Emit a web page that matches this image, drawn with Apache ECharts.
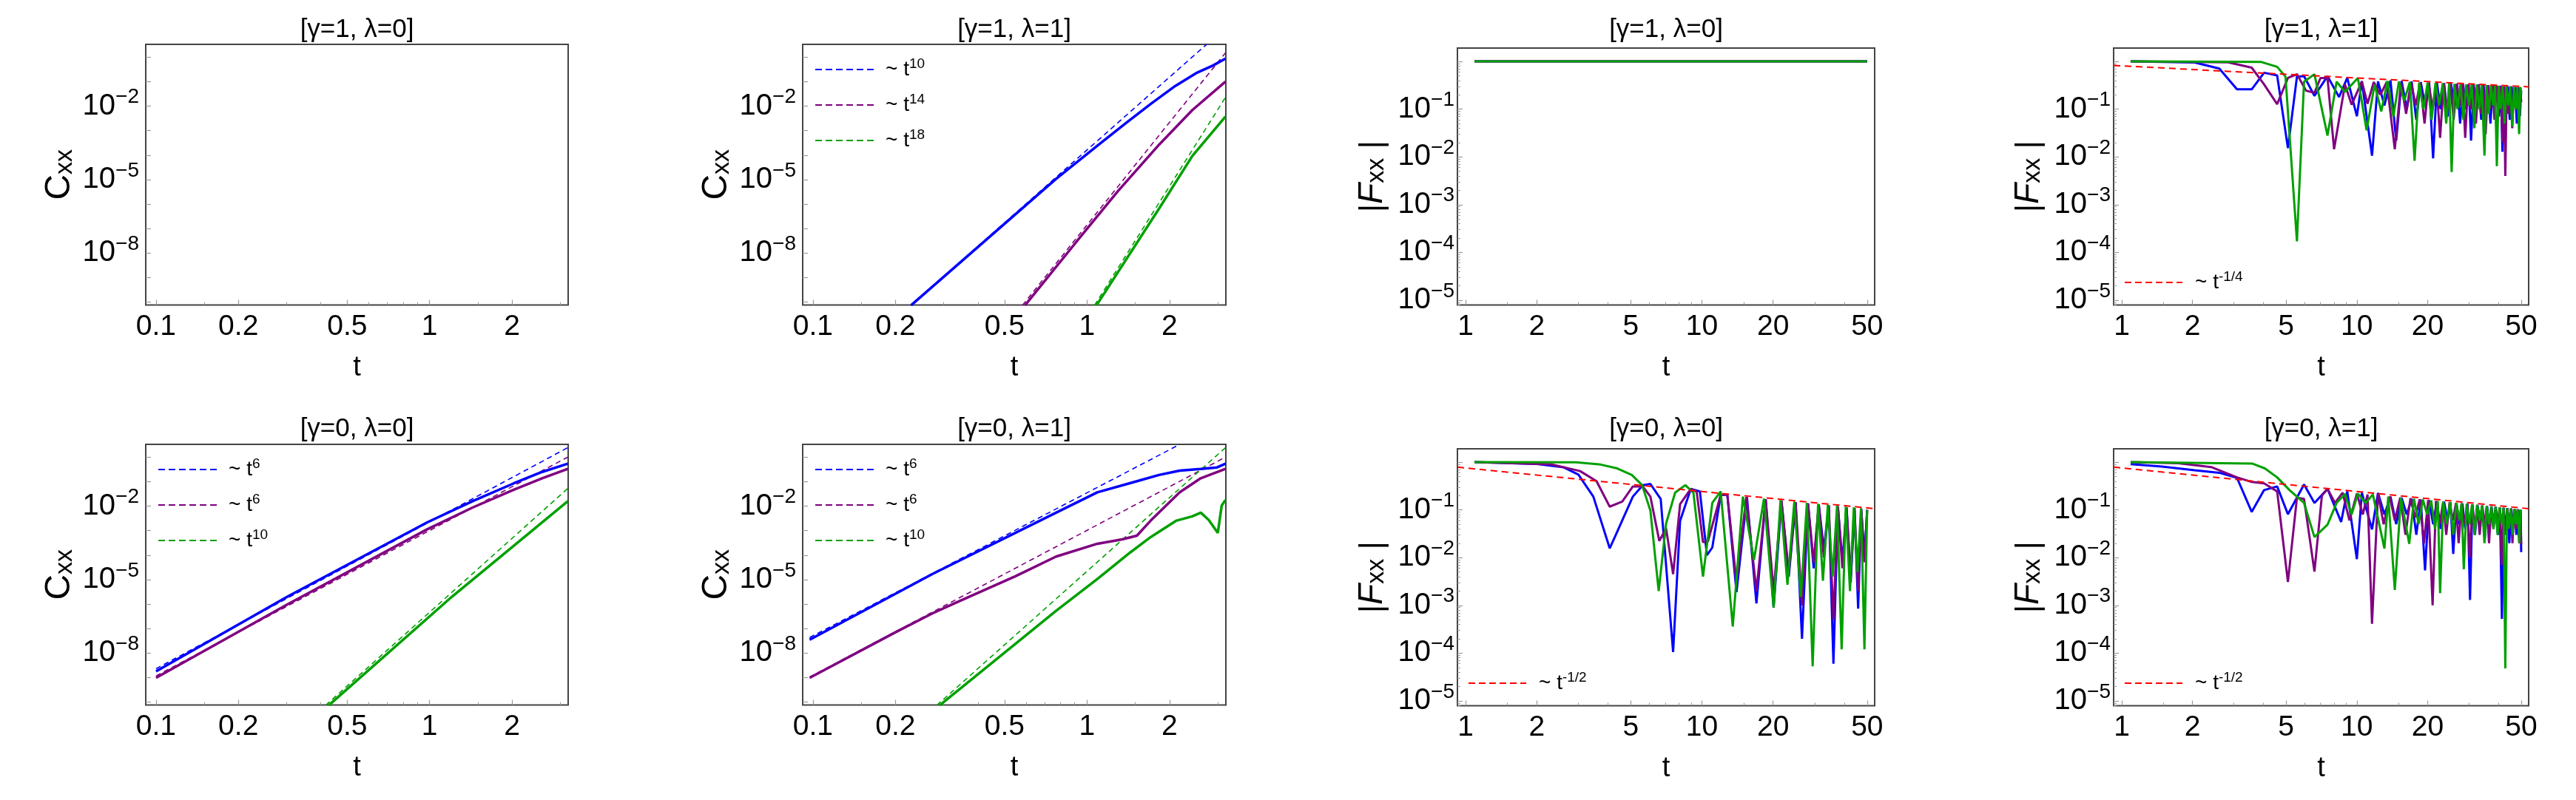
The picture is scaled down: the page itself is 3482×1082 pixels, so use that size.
<!DOCTYPE html>
<html>
<head>
<meta charset="utf-8">
<title>Cxx and Fxx</title>
<script src="https://cdn.jsdelivr.net/npm/echarts@6.0.0/dist/echarts.min.js"></script>
<style>
  html, body { margin: 0; padding: 0; background: #fff; }
  #container { width: 3482px; height: 1082px; }
</style>
</head>
<body>
<div id="container"></div>
<script>
// ---- data: [t, value] ----
// panel 2  [γ=1, λ=1]  Cxx
var p2Blue = [[0.228, 7.4e-11], [0.771, 1.07e-5], [1.09, 2.4e-4], [1.39, 2.07e-3], [1.71, 0.0124], [2.10, 0.0667], [2.50, 0.221], [2.88, 0.453], [3.2, 0.865]];
var p2BlueFit = [[0.228, 7.4e-11], [2.73, 3.3]];
var p2Purple = [[0.594, 7.4e-11], [0.917, 3.0e-8], [1.297, 3.4e-6], [1.834, 2.7e-4], [2.42, 6.8e-3], [3.2, 0.1]];
var p2PurpleFit = [[0.581, 7.4e-11], [3.2, 1.5]];
var p2Green = [[1.083, 7.4e-11], [1.834, 6.7e-7], [2.42, 9.1e-5], [3.2, 3.76e-3]];
var p2GreenFit = [[1.065, 7.4e-11], [3.2, 0.0227]];

// panel 5  [γ=0, λ=0]  Cxx
var p5Blue = [[0.1, 1.8e-9], [0.302, 2.0e-6], [0.98, 2.17e-3], [1.435, 0.0158], [2.03, 0.0847], [2.58, 0.249], [3.2, 0.536]];
var p5BlueFit = [[0.1, 2.3e-9], [3.2, 2.43]];
var p5Purple = [[0.1, 9.8e-10], [0.302, 9.7e-7], [0.98, 1.13e-3], [1.435, 8.7e-3], [2.03, 0.0466], [2.58, 0.137], [3.2, 0.332]];
var p5PurpleFit = [[0.1, 1.17e-9], [3.2, 1.0]];
var p5Green = [[0.428, 7.4e-11], [1.207, 2.0e-6], [3.2, 0.0158]];
var p5GreenFit = [[0.417, 7.4e-11], [3.2, 0.0525]];

// panel 6  [γ=0, λ=1]  Cxx
var p6Blue = [[0.0972, 3.5e-8], [0.273, 1.7e-5], [0.771, 5.4e-3], [1.09, 0.0366], [1.54, 0.108], [1.83, 0.187], [2.18, 0.28], [2.6, 0.33], [2.98, 0.38], [3.2, 0.537]];
var p6BlueFit = [[0.0972, 4.3e-8], [2.18, 3.31]];
var p6Purple = [[0.0972, 9.8e-10], [0.2, 7.1e-8], [0.273, 4.2e-7], [0.33, 1.1e-6], [0.386, 2.4e-6], [0.546, 1.35e-5], [0.771, 8.7e-5], [1.09, 2.9e-4], [1.343, 4.4e-4], [1.52, 6.2e-4], [1.71, 2.6e-3], [1.93, 9.8e-3], [2.18, 0.0366], [2.6, 0.137], [3.2, 0.332]];
var p6PurpleFit = [[0.0972, 1.05e-9], [3.2, 1.0]];
var p6Green = [[0.29, 7.4e-11], [0.771, 5.3e-7], [1.09, 1.06e-5], [1.44, 1.3e-4], [1.71, 5.5e-4], [2.11, 2.5e-3], [2.42, 3.8e-3], [2.6, 5.4e-3], [2.78, 2.7e-3], [3.0, 8.0e-4], [3.1, 0.0105], [3.2, 0.0179]];
var p6GreenFit = [[0.283, 7.4e-11], [3.2, 2.43]];

// panel 3  [γ=1, λ=0]  |Fxx|
var p3Blue = [[1.09, 1], [50, 1]];
var p3Purple = [[1.09, 1], [50, 1]];
var p3Green = [[1.09, 1], [50, 1]];

// panel 4  [γ=1, λ=1]  |Fxx|
var p4Blue = [[1.09,1.0],[2.04,0.95],[2.6,0.71],[3.09,0.26],[3.57,0.26],[4.03,0.58],[4.58,0.51],[5.09,0.0153],[5.56,0.48],[5.96,0.49],[6.6,0.19],[7.5,0.49],[8.4,0.18],[9.1,0.45],[10.0,0.071],[10.5,0.385],[11.6,0.0106],[12.3,0.38],[13.1,0.12],[13.9,0.40],[14.7,0.022],[15.5,0.39],[16.3,0.10],[17.1,0.38],[17.9,0.06],[18.7,0.37],[19.5,0.12],[20.3,0.36],[21.1,9.3e-3],[21.9,0.36],[22.7,0.10],[23.5,0.35],[24.3,0.07],[25.1,0.35],[25.9,0.15],[26.7,0.34],[27.5,0.05],[28.3,0.34],[29.1,0.10],[29.9,0.33],[30.6,0.022],[31.4,0.33],[32.2,0.12],[33.0,0.33],[33.8,0.06],[34.6,0.32],[35.4,0.10],[36.2,0.32],[37.0,0.05],[37.8,0.31],[38.6,0.12],[39.4,0.31],[40.2,0.07],[41.0,0.31],[41.6,0.0128],[42.3,0.30],[43.1,0.10],[43.9,0.30],[44.7,0.06],[45.5,0.30],[46.3,0.12],[47.1,0.29],[47.9,0.05],[48.7,0.29],[49.4,0.071],[50,0.25]];
var p4Purple = [[1.09,1.0],[2.83,0.96],[3.57,0.74],[4.03,0.33],[4.58,0.127],[5.09,0.45],[5.56,0.54],[6.08,0.244],[6.6,0.22],[7.0,0.45],[7.5,0.45],[8.0,0.0145],[8.9,0.33],[9.5,0.124],[10.5,0.38],[11.1,0.13],[11.8,0.37],[12.6,0.2],[13.4,0.37],[14.5,0.0145],[15.4,0.36],[16.2,0.08],[17.0,0.37],[17.8,0.12],[18.6,0.36],[19.4,0.05],[20.2,0.36],[21.0,0.10],[21.8,0.35],[22.6,0.025],[23.4,0.35],[24.2,0.09],[25.0,0.34],[25.8,0.06],[26.6,0.34],[27.4,0.12],[28.2,0.33],[28.9,0.025],[29.7,0.33],[30.5,0.10],[31.3,0.33],[32.1,0.05],[32.9,0.32],[33.7,0.08],[34.5,0.32],[35.3,0.03],[36.1,0.32],[36.9,0.10],[37.7,0.31],[38.5,0.06],[39.3,0.31],[40.1,0.09],[40.9,0.30],[41.7,0.02],[42.3,0.30],[42.8,4.0e-3],[43.4,0.30],[44.2,0.08],[45.0,0.30],[45.8,0.04],[46.6,0.29],[47.4,0.10],[48.2,0.29],[49.0,0.05],[49.6,0.28],[50,0.14]];
var p4Green = [[1.09,1.0],[3.9,0.98],[4.58,0.77],[4.97,0.48],[5.56,1.7e-4],[5.96,0.376],[6.6,0.54],[7.5,0.028],[8.2,0.376],[8.9,0.23],[10.1,0.45],[11.0,0.036],[11.9,0.33],[12.7,0.09],[13.5,0.39],[14.3,0.07],[15.1,0.38],[15.9,0.15],[16.8,0.37],[17.6,8.3e-3],[18.4,0.36],[19.2,0.10],[20.0,0.36],[20.8,0.06],[21.6,0.35],[22.4,0.12],[23.2,0.35],[24.0,0.05],[24.7,0.35],[25.3,4.8e-3],[26.0,0.34],[26.8,0.10],[27.6,0.34],[28.4,0.06],[29.2,0.33],[30.0,0.12],[30.8,0.33],[31.6,0.04],[32.4,0.33],[33.2,0.10],[34.0,0.32],[34.9,0.0106],[35.6,0.32],[36.4,0.08],[37.2,0.32],[38.0,0.12],[38.7,0.31],[39.4,6.4e-3],[40.1,0.31],[40.9,0.10],[41.7,0.30],[42.5,0.05],[43.3,0.30],[44.1,0.12],[44.9,0.30],[45.8,0.043],[46.6,0.29],[47.4,0.10],[48.2,0.29],[49.0,0.03],[49.6,0.29],[50,0.2]];
var p4Fit = [[0.923, 0.824], [53.8, 0.294]];

// panel 7  [γ=0, λ=0]  |Fxx|
var p7Blue = [[1.09,1.0],[2.0,0.92],[2.6,0.78],[3.0,0.55],[3.47,0.19],[4.07,0.0157],[4.32,0.030],[5.1,0.19],[5.62,0.33],[6.05,0.35],[6.69,0.169],[7.55,1.05e-4],[8.08,0.059],[8.97,0.276],[9.8,0.244],[10.5,0.0113],[11.06,0.0163],[12.0,0.203],[12.8,0.21],[14.0,1.9e-3],[15.5,0.185],[17.0,1.1e-3],[18.6,0.168],[20.1,9e-4],[21.7,0.155],[23.3,4e-3],[24.9,0.145],[26.5,2e-4],[28.1,0.137],[29.7,6e-3],[31.2,0.13],[32.8,1.5e-2],[34.4,0.124],[36.0,6e-5],[37.6,0.118],[39.3,8e-3],[40.9,0.113],[42.6,3e-3],[44.2,0.109],[45.8,8.5e-4],[47.2,0.105],[48.7,1e-2],[50,0.1]];
var p7Purple = [[1.09,1.0],[2.3,0.9],[3.05,0.65],[3.58,0.40],[4.07,0.117],[4.6,0.149],[5.1,0.31],[5.62,0.31],[6.05,0.19],[6.6,0.0224],[7.05,0.041],[7.55,4.5e-3],[8.08,0.132],[8.97,0.276],[9.5,0.24],[10.1,0.021],[10.6,0.022],[12.0,0.205],[12.8,0.21],[14.0,3e-3],[15.4,0.185],[17.0,2e-3],[18.6,0.168],[20.1,2e-3],[21.7,0.155],[23.3,5e-3],[24.9,0.145],[26.5,1e-3],[28.1,0.137],[29.7,8e-3],[31.2,0.13],[32.8,1e-2],[34.4,0.124],[36.0,5e-4],[37.6,0.118],[39.3,6e-3],[40.9,0.113],[42.6,4e-3],[44.2,0.109],[45.8,2e-3],[47.2,0.105],[48.7,8e-3],[50,0.1]];
var p7Green = [[1.09,1.0],[2.93,0.99],[3.73,0.89],[4.38,0.74],[5.05,0.54],[5.58,0.33],[6.05,0.097],[6.56,2.0e-3],[7.05,0.052],[7.7,0.23],[8.5,0.33],[9.2,0.23],[10.1,4e-3],[11.06,0.14],[12.0,0.244],[13.5,3.6e-4],[14.9,0.19],[16.6,9e-3],[18.3,0.172],[20.1,9e-4],[21.5,0.16],[23.0,2.7e-3],[24.6,0.15],[26.2,1.5e-3],[27.8,0.141],[29.4,5.3e-5],[31.0,0.134],[32.5,3.3e-3],[34.1,0.128],[35.7,4e-3],[37.3,0.122],[39.0,1.2e-4],[40.6,0.117],[42.3,2e-3],[43.9,0.113],[45.5,5e-3],[47.1,0.109],[48.7,1.2e-4],[50,0.1]];
var p7Fit = [[0.923, 0.786], [53.8, 0.106]];

// panel 8  [γ=0, λ=1]  |Fxx|
var p8Blue = [[1.09,0.91],[1.48,0.81],[2.04,0.68],[2.6,0.6],[3.09,0.47],[3.57,0.091],[4.03,0.26],[4.58,0.31],[5.09,0.081],[5.96,0.34],[6.6,0.14],[7.5,0.276],[8.57,0.056],[9.1,0.245],[10.0,9.3e-3],[10.5,0.23],[11.6,0.039],[12.3,0.227],[13.1,0.08],[13.9,0.19],[14.7,0.05],[15.5,0.18],[16.3,0.08],[17.1,0.17],[17.9,0.03],[18.7,0.165],[19.5,5.4e-3],[20.3,0.16],[21.1,0.05],[21.9,0.152],[22.7,0.04],[23.5,0.148],[24.3,0.06],[25.0,0.145],[25.7,0.012],[26.5,0.14],[27.3,0.05],[28.1,0.136],[28.9,0.04],[29.6,0.133],[30.3,1.3e-3],[31.0,0.13],[31.8,0.03],[32.6,0.127],[33.4,0.06],[34.2,0.123],[35.0,0.025],[35.8,0.12],[36.6,0.04],[37.4,0.118],[38.2,0.05],[39.0,0.116],[39.8,0.03],[40.6,0.113],[41.4,5.2e-4],[42.1,0.111],[42.9,0.04],[43.7,0.109],[44.5,0.02],[45.3,0.107],[46.1,0.05],[46.9,0.105],[47.7,0.03],[48.5,0.103],[49.2,0.025],[49.7,0.1],[50,0.013]];
var p8Purple = [[1.09,1.0],[1.74,0.95],[2.4,0.79],[3.09,0.48],[3.57,0.385],[4.03,0.36],[4.58,0.244],[5.09,3.1e-3],[5.56,0.18],[5.96,0.17],[6.6,5.1e-3],[7.1,0.2],[7.5,0.276],[8.07,0.14],[8.7,0.23],[9.3,0.06],[10.0,0.22],[10.6,0.08],[11.1,0.21],[11.6,4.1e-4],[12.3,0.22],[13.0,0.05],[13.8,0.19],[14.5,0.06],[15.3,0.182],[16.1,0.03],[16.9,0.175],[17.7,0.07],[18.5,0.167],[19.3,0.02],[20.1,0.16],[21.0,1.0e-3],[21.7,0.154],[22.5,0.05],[23.3,0.148],[24.0,0.03],[24.8,0.145],[25.6,0.06],[26.4,0.14],[27.1,0.02],[27.9,0.137],[28.7,0.05],[29.5,0.133],[30.2,0.01],[31.0,0.13],[31.8,0.04],[32.5,0.127],[33.3,0.03],[34.1,0.123],[34.9,0.05],[35.7,0.12],[36.5,0.02],[37.3,0.118],[38.1,0.04],[38.9,0.116],[39.7,0.05],[40.5,0.113],[41.3,7e-3],[42.0,0.111],[42.8,0.03],[43.6,0.109],[44.4,0.05],[45.2,0.107],[45.9,0.02],[46.7,0.105],[47.5,0.04],[48.3,0.103],[49.1,0.02],[49.7,0.1],[50,0.019]];
var p8Green = [[1.09,1.0],[3.6,0.93],[4.06,0.74],[4.58,0.48],[5.17,0.26],[5.96,0.14],[6.6,0.027],[7.5,0.049],[8.2,0.14],[8.9,0.216],[9.5,0.08],[10.1,0.22],[10.9,0.14],[11.7,0.21],[13.1,0.0155],[13.6,0.19],[14.5,2.1e-3],[15.4,0.18],[16.7,0.0195],[17.5,0.172],[18.3,0.05],[19.1,0.165],[19.9,0.08],[20.7,0.158],[21.5,0.04],[22.1,0.153],[22.6,1.8e-3],[23.3,0.15],[24.1,0.05],[24.9,0.145],[25.7,0.03],[26.5,0.14],[27.3,0.06],[27.9,0.137],[28.5,5.7e-3],[29.3,0.133],[30.1,0.05],[30.9,0.13],[31.7,0.03],[32.5,0.127],[33.3,0.06],[34.1,0.123],[34.9,0.02],[35.7,0.12],[36.5,0.05],[37.3,0.118],[38.1,0.04],[38.9,0.116],[39.7,0.03],[40.5,0.113],[41.3,0.05],[42.1,0.111],[42.8,4.8e-5],[43.5,0.109],[44.3,0.04],[45.1,0.107],[45.9,0.03],[46.7,0.105],[47.5,0.05],[48.3,0.103],[49.1,0.02],[49.7,0.1],[50,0.09]];
var p8Fit = [[0.923, 0.786], [53.8, 0.106]];

// ---- axis ticks and labels ----
var cxxXTicks = [0.1, 0.2, 0.5, 1, 2];
var cxxXLabels = ['0.1', '0.2', '0.5', '1', '2'];
var cxxXMinor = [0.15, 0.3, 0.4, 0.6, 0.7, 0.8, 0.9, 1.5, 3];
var cxxYTicks = [1e-10, 1e-9, 1e-8, 1e-7, 1e-6, 1e-5, 1e-4, 1e-3, 1e-2, 1e-1, 1];
var cxxYLabelVals = [1e-8, 1e-5, 1e-2];
var cxxYLabelExp = ['−8', '−5', '−2'];

var fxxXTicks = [1, 2, 5, 10, 20, 50];
var fxxXLabels = ['1', '2', '5', '10', '20', '50'];
var fxxXMinor = [1.5, 3, 4, 6, 7, 8, 9, 15, 30, 40];
var fxxYTicks = [1e-5, 1e-4, 1e-3, 1e-2, 1e-1, 1];
var fxxYLabelVals = [1e-5, 1e-4, 1e-3, 1e-2, 1e-1];
var fxxYLabelExp = ['−5', '−4', '−3', '−2', '−1'];
var fxxYMinor = [];
for (var e = -6; e <= 0; e++) {
    for (var k = 2; k <= 9; k++) {
        var v = k * Math.pow(10, e);
        if (v > 7.9e-6 && v < 1.9) fxxYMinor.push(v);
    }
}

// ---- styling / layout ----
var FONT = 'Liberation Sans';
var BLUE = '#0000ff', PURPLE = '#800080', GREEN = '#00a000', RED = '#ff0000';
var TICK = '#9a9a9a';

var colLeft = [197, 1085, 1970, 2857];
var colWidth = [571, 572, 564, 561];
var rowTopC = [60, 601], rowHC = 352.5;
var rowTopF = [65, 607], rowHF = 347.5;
var titleY = [40, 580];

var kinds = {
    C: {xMin: 0.0917, xMax: 3.21, yMin: 7.6e-11, yMax: 3.31,
        xTicks: cxxXTicks, xLabels: cxxXLabels, xMinor: cxxXMinor,
        yTicks: cxxYTicks, yLabelVals: cxxYLabelVals, yLabelExp: cxxYLabelExp, yMinor: [],
        yName: '{c|C}{s|xx}', yMargin: 9},
    F: {xMin: 0.923, xMax: 53.8, yMin: 7.9e-6, yMax: 1.905,
        xTicks: fxxXTicks, xLabels: fxxXLabels, xMinor: fxxXMinor,
        yTicks: fxxYTicks, yLabelVals: fxxYLabelVals, yLabelExp: fxxYLabelExp, yMinor: fxxYMinor,
        yName: '{b||}{f|F}{s|xx}{b| |}', yMargin: 4}
};

var panels = [
    {kind: 'C', title: '[γ=1, λ=0]', lines: [], legend: []},
    {kind: 'C', title: '[γ=1, λ=1]',
     lines: [[p2BlueFit, BLUE, 1], [p2PurpleFit, PURPLE, 1], [p2GreenFit, GREEN, 1],
             [p2Blue, BLUE, 0], [p2Purple, PURPLE, 0], [p2Green, GREEN, 0]],
     legend: [[BLUE, '10'], [PURPLE, '14'], [GREEN, '18']]},
    {kind: 'F', title: '[γ=1, λ=0]',
     lines: [[p3Blue, BLUE, 0], [p3Purple, PURPLE, 0], [p3Green, GREEN, 0]], legend: []},
    {kind: 'F', title: '[γ=1, λ=1]',
     lines: [[p4Blue, BLUE, 0], [p4Purple, PURPLE, 0], [p4Green, GREEN, 0], [p4Fit, RED, 2]],
     legend: [[RED, '-1/4']]},
    {kind: 'C', title: '[γ=0, λ=0]',
     lines: [[p5BlueFit, BLUE, 1], [p5PurpleFit, PURPLE, 1], [p5GreenFit, GREEN, 1],
             [p5Blue, BLUE, 0], [p5Purple, PURPLE, 0], [p5Green, GREEN, 0]],
     legend: [[BLUE, '6'], [PURPLE, '6'], [GREEN, '10']]},
    {kind: 'C', title: '[γ=0, λ=1]',
     lines: [[p6BlueFit, BLUE, 1], [p6PurpleFit, PURPLE, 1], [p6GreenFit, GREEN, 1],
             [p6Blue, BLUE, 0], [p6Purple, PURPLE, 0], [p6Green, GREEN, 0]],
     legend: [[BLUE, '6'], [PURPLE, '6'], [GREEN, '10']]},
    {kind: 'F', title: '[γ=0, λ=0]',
     lines: [[p7Blue, BLUE, 0], [p7Purple, PURPLE, 0], [p7Green, GREEN, 0], [p7Fit, RED, 2]],
     legend: [[RED, '-1/2']]},
    {kind: 'F', title: '[γ=0, λ=1]',
     lines: [[p8Blue, BLUE, 0], [p8Purple, PURPLE, 0], [p8Green, GREEN, 0], [p8Fit, RED, 2]],
     legend: [[RED, '-1/2']]}
];

function labelIndex(list, val) {
    for (var i = 0; i < list.length; i++) {
        if (Math.abs(list[i] - val) <= Math.abs(list[i]) * 1e-6) return i;
    }
    return -1;
}

var grid = [], xAxis = [], yAxis = [], series = [], graphic = [];
var legendRich = {
    a: {fontSize: 28, lineHeight: 34, fontFamily: FONT},
    s: {fontSize: 19, lineHeight: 18, verticalAlign: 'top', fontFamily: FONT}
};

panels.forEach(function (p, g) {
    var col = g % 4, row = Math.floor(g / 4);
    var K = kinds[p.kind];
    var left = colLeft[col], width = colWidth[col];
    var top = p.kind === 'C' ? rowTopC[row] : rowTopF[row];
    var height = p.kind === 'C' ? rowHC : rowHF;

    grid.push({left: left, top: top, width: width, height: height, show: true,
        borderColor: '#444', borderWidth: 2, backgroundColor: 'transparent',
        outerBoundsMode: 'none', containLabel: false});

    xAxis.push({
        type: 'log', gridIndex: g, min: K.xMin, max: K.xMax, position: 'bottom',
        axisLine: {show: false, onZero: false}, splitLine: {show: false}, minorTick: {show: false},
        axisTick: {inside: true, length: 7, lineStyle: {color: TICK, width: 1.2}, customValues: K.xTicks},
        axisLabel: {customValues: K.xTicks, fontSize: 39, fontFamily: FONT, color: '#000', margin: 10,
            formatter: function (v) { var i = labelIndex(K.xTicks, v); return i < 0 ? '' : K.xLabels[i]; }},
        name: 't', nameLocation: 'middle', nameGap: 66,
        nameTextStyle: {fontSize: 38, fontFamily: FONT, color: '#000'}
    });
    xAxis.push({
        type: 'log', gridIndex: g, min: K.xMin, max: K.xMax, position: 'bottom',
        axisLine: {show: false, onZero: false}, splitLine: {show: false}, axisLabel: {show: false},
        axisTick: {inside: true, length: 4, lineStyle: {color: TICK, width: 1}, customValues: K.xMinor}
    });
    yAxis.push({
        type: 'log', gridIndex: g, min: K.yMin, max: K.yMax, position: 'left',
        axisLine: {show: false, onZero: false}, splitLine: {show: false}, minorTick: {show: false},
        axisTick: {inside: true, length: 7, lineStyle: {color: TICK, width: 1.2}, customValues: K.yTicks},
        axisLabel: {customValues: K.yLabelVals, color: '#000', margin: K.yMargin,
            formatter: function (v) { var i = labelIndex(K.yLabelVals, v); return i < 0 ? '' : '{b|10}{e|' + K.yLabelExp[i] + '}'; },
            rich: {
                b: {fontSize: 40, lineHeight: 52, fontFamily: FONT, color: '#000'},
                e: {fontSize: 28, lineHeight: 28, verticalAlign: 'top', fontFamily: FONT, color: '#000'}
            }},
        name: K.yName, nameLocation: 'middle', nameRotate: 90, nameGap: 92,
        nameTextStyle: {color: '#000', fontFamily: FONT, rich: {
            c: {fontSize: 48, lineHeight: 52, verticalAlign: 'bottom', fontFamily: FONT, color: '#000'},
            s: {fontSize: 34, lineHeight: 40, verticalAlign: 'bottom', fontFamily: FONT, color: '#000'},
            b: {fontSize: 44, lineHeight: 52, verticalAlign: 'bottom', fontFamily: FONT, color: '#000'},
            f: {fontSize: 46, lineHeight: 52, verticalAlign: 'bottom', fontStyle: 'italic', fontFamily: FONT, color: '#000'}
        }}
    });
    yAxis.push({
        type: 'log', gridIndex: g, min: K.yMin, max: K.yMax, position: 'left',
        axisLine: {show: false, onZero: false}, splitLine: {show: false}, axisLabel: {show: false},
        axisTick: {inside: true, length: 4, lineStyle: {color: TICK, width: 1}, customValues: K.yMinor}
    });

    p.lines.forEach(function (ln) {
        var style = ln[2];
        var w = style === 0 ? (p.kind === 'C' ? 3.5 : 3) : (style === 1 ? 1.6 : 2);
        series.push({
            type: 'line', xAxisIndex: 2 * g, yAxisIndex: 2 * g, data: ln[0],
            showSymbol: false, symbol: 'none', silent: true, clip: true, animation: false,
            lineStyle: {color: ln[1], width: w, type: style === 0 ? 'solid' : (style === 1 ? [7, 5] : [9, 6])},
            z: style === 2 ? 4 : 3
        });
    });

    graphic.push({type: 'text', x: left + width / 2, y: titleY[row], silent: true,
        style: {text: p.title, fontSize: 35, fontFamily: FONT, fill: '#000', align: 'center', verticalAlign: 'middle'}});

    p.legend.forEach(function (lg, i) {
        var ly, x1, x2, tx;
        if (p.kind === 'C') { ly = top + 34 + 48 * i; x1 = left + 17; x2 = left + 96; tx = left + 112; }
        else { ly = top + 317; x1 = left + 15; x2 = left + 93; tx = left + 110; }
        graphic.push({type: 'line', silent: true, shape: {x1: x1, y1: ly, x2: x2, y2: ly},
            style: {stroke: lg[0], lineWidth: 2, lineDash: [9, 5]}});
        graphic.push({type: 'text', x: tx, y: ly, silent: true,
            style: {text: '{a|~ t}{s|' + lg[1] + '}', rich: legendRich, fill: '#000',
                align: 'left', verticalAlign: 'middle'}});
    });
});

var dom = document.getElementById('container');
var myChart = echarts.init(dom);
var option = {
    animation: false,
    backgroundColor: '#fff',
    textStyle: {fontFamily: FONT},
    grid: grid,
    xAxis: xAxis,
    yAxis: yAxis,
    series: series,
    graphic: graphic
};
myChart.setOption(option, true);
</script>
</body>
</html>
